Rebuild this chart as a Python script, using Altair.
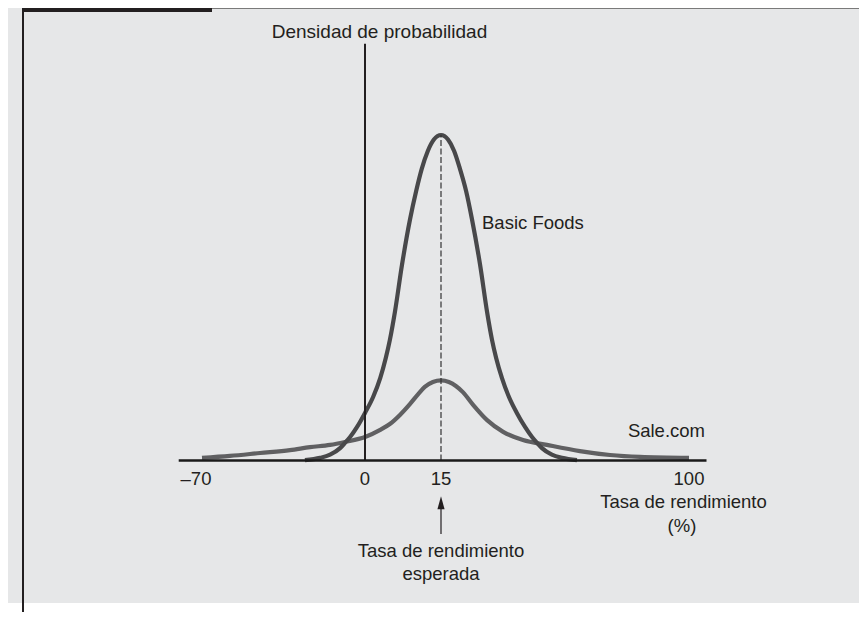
import altair as alt
import pandas as pd

# ---------------- data ----------------
# Basic Foods density curve (x = rate of return %, y = relative density, peak = 100)
bf_x = [-25.8, -19.3, -15.0, -10.7, -8.6, -6.4, -3.4, 0.0, 1.6, 3.0, 4.1, 4.9, 5.9, 7.3,
        8.9, 10.1, 11.2, 12.4, 13.6, 15.0, 17.4, 19.5, 21.5, 23.6, 25.6, 28.4, 30.8, 32.5,
        33.9, 35.9, 38.3, 41.0, 43.8, 46.2, 47.9, 49.6, 53.0, 56.5, 61.6]
bf_y = [0.1, 0.8, 1.8, 3.8, 5.4, 7.2, 10.3, 14.6, 19.5, 25.3, 31.5, 37.0, 45.6, 60.1,
        74.2, 82.8, 89.6, 95.1, 98.6, 100.0, 98.6, 95.1, 89.6, 82.8, 74.2, 60.1, 45.6, 37.0,
        31.5, 25.3, 19.5, 14.6, 10.3, 7.2, 5.4, 3.8, 1.8, 0.8, 0.1]

# Sale.com density curve
sc_x = [-70.0, -58.0, -45.1, -32.2, -23.6, -15.0, -8.6, 0.0, 3.0, 4.9, 6.9, 8.9, 10.5, 11.8,
        13.4, 15.0, 17.7, 20.1, 22.5, 26.0, 30.8, 36.3, 43.1, 51.3, 62.6, 72.9, 83.2, 100.0]
sc_y = [0.8, 1.4, 2.3, 3.2, 4.1, 4.8, 5.7, 7.2, 9.4, 11.2, 14.0, 17.4, 20.4, 22.6,
        24.1, 24.6, 24.1, 22.9, 21.0, 17.1, 12.4, 8.8, 6.3, 4.8, 2.9, 1.7, 1.1, 0.8]

tick_values = [-70, 0, 15, 100]
tick_labels = ["\u201370", "0", "15", "100"]
expected_return = [15]
axis_x_ends = [-80, 106]
y_axis_top = [128]
peak_height = [100]

# ---------------- styling ----------------
FONT = "Liberation Sans"
INK = "#231f20"
BG = "#e6e7e8"
W, H = 851, 604

xs = alt.Scale(domain=[-70, 0, 15, 100], range=[194, 357, 433, 681], nice=False, zero=False)
ys = alt.Scale(domain=[0, 100], range=[452.5, 127], nice=False, zero=False)

one = pd.DataFrame({"k": [0]})

bf = pd.DataFrame({"x": bf_x, "y": bf_y})
sc = pd.DataFrame({"x": sc_x, "y": sc_y})
ticks = pd.DataFrame({"v": tick_values, "t": tick_labels})
base_df = pd.DataFrame({"x": [axis_x_ends[0]], "x2": [axis_x_ends[1]], "y": [0]})
yax_df = pd.DataFrame({"x": [0], "y": [0], "y2": y_axis_top})
dash_df = pd.DataFrame({"x": expected_return, "y": [0], "y2": peak_height})
exp_df = pd.DataFrame({"x": expected_return})

background = alt.Chart(one).mark_rect(color=BG).encode(
    x=alt.value(0), x2=alt.value(W), y=alt.value(0), y2=alt.value(595))

top_bar = alt.Chart(one).mark_rect(color=INK).encode(
    x=alt.value(14), x2=alt.value(204), y=alt.value(0), y2=alt.value(4))

top_line = alt.Chart(one).mark_rule(color="#7a7a7a", strokeWidth=1).encode(
    x=alt.value(204), x2=alt.value(W), y=alt.value(0.5))

left_line = alt.Chart(one).mark_rule(color=INK, strokeWidth=2).encode(
    x=alt.value(15), y=alt.value(0), y2=alt.value(H))

baseline = alt.Chart(base_df).mark_rule(color="#1a1a1a", strokeWidth=2.4).encode(
    x=alt.X("x:Q", scale=xs, axis=None), x2="x2:Q",
    y=alt.Y("y:Q", scale=ys, axis=None))

y_axis = alt.Chart(yax_df).mark_rule(color=INK, strokeWidth=2).encode(
    x=alt.X("x:Q", scale=xs, axis=None),
    y=alt.Y("y:Q", scale=ys, axis=None), y2="y2:Q")

dashed = alt.Chart(dash_df).mark_rule(color="#333333", strokeWidth=1.2, strokeDash=[6, 2.5]).encode(
    x=alt.X("x:Q", scale=xs, axis=None),
    y=alt.Y("y:Q", scale=ys, axis=None), y2="y2:Q")

sale_line = alt.Chart(sc).mark_line(color="#606062", strokeWidth=4.2, interpolate="monotone",
                                    strokeCap="butt").encode(
    x=alt.X("x:Q", scale=xs, axis=None),
    y=alt.Y("y:Q", scale=ys, axis=None))

basic_line = alt.Chart(bf).mark_line(color="#48484a", strokeWidth=4.2, interpolate="monotone",
                                     strokeCap="butt").encode(
    x=alt.X("x:Q", scale=xs, axis=None),
    y=alt.Y("y:Q", scale=ys, axis=None))

tick_text = alt.Chart(ticks).transform_filter("datum.v != -70").mark_text(
    align="center", baseline="alphabetic", font=FONT, fontSize=18.5, color=INK).encode(
    x=alt.X("v:Q", scale=xs, axis=None), y=alt.value(477), text="t:N")

tick_text_neg = alt.Chart(ticks).transform_filter("datum.v == -70").mark_text(
    align="center", baseline="alphabetic", font=FONT, fontSize=18.5, color=INK, dx=-6).encode(
    x=alt.X("v:Q", scale=xs, axis=None), y=alt.value(477), text="t:N")

arrow_shaft = alt.Chart(exp_df).mark_rule(color=INK, strokeWidth=1.2).encode(
    x=alt.X("x:Q", scale=xs, axis=None), y=alt.value(500), y2=alt.value(526))

arrow_head = alt.Chart(exp_df).mark_point(
    shape="M0,-1L0.55,1L-0.55,1Z", filled=True, color=INK, opacity=1, size=169, strokeWidth=0).encode(
    x=alt.X("x:Q", scale=xs, axis=None), y=alt.value(494.7))


def label(text, x, y, align="center", size=18.5):
    return alt.Chart(pd.DataFrame({"t": [text]})).mark_text(
        align=align, baseline="alphabetic", font=FONT, fontSize=size, color=INK).encode(
        x=alt.value(x), y=alt.value(y), text="t:N")


labels = [
    label("Densidad de probabilidad", 371.5, 30, size=19),
    label("Basic Foods", 474, 221, align="left"),
    label("Sale.com", 697, 429.3, align="right"),
    label("Tasa de rendimiento", 675.5, 500.3),
    label("(%)", 674, 523.7),
    label("Tasa de rendimiento", 433, 549.3),
    label("esperada", 433, 572),
]

chart = alt.layer(
    background, top_bar, top_line, left_line,
    sale_line, basic_line, dashed, y_axis, baseline,
    tick_text, tick_text_neg, arrow_shaft, arrow_head,
    *labels
).properties(
    width=W, height=H, padding=0,
    autosize=alt.AutoSizeParams(type="none"),
    background="white",
).configure_view(stroke=None)

chart.save("out.html", embed_options={"renderer": "svg", "actions": False})
